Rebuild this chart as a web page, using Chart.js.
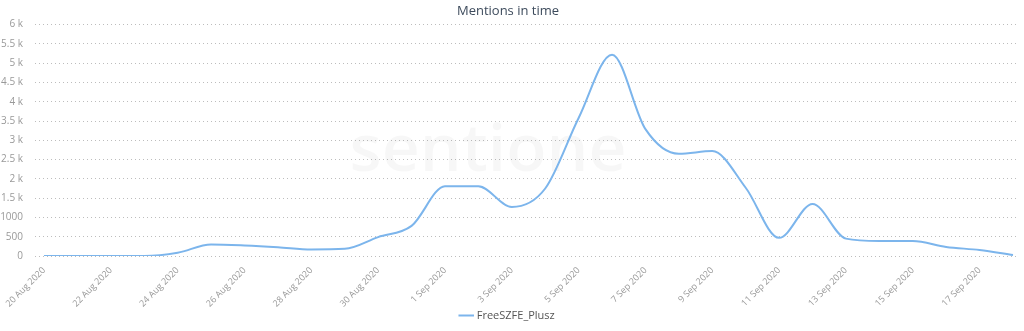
<!DOCTYPE html>
<html>
<head>
<meta charset="utf-8">
<script src="https://cdn.jsdelivr.net/npm/chart.js@4"></script>
<style>
  html, body { margin: 0; padding: 0; background: #fff; }
  #wrap { width: 1024px; height: 331px; }
</style>
</head>
<body>
<div id="wrap"><canvas id="chart"></canvas></div>
<script>
// One point per day
const days = [
  '20 Aug 2020', '21 Aug 2020', '22 Aug 2020', '23 Aug 2020', '24 Aug 2020', '25 Aug 2020',
  '26 Aug 2020', '27 Aug 2020', '28 Aug 2020', '29 Aug 2020', '30 Aug 2020', '31 Aug 2020',
  '1 Sep 2020', '2 Sep 2020', '3 Sep 2020', '4 Sep 2020', '5 Sep 2020', '6 Sep 2020',
  '7 Sep 2020', '8 Sep 2020', '9 Sep 2020', '10 Sep 2020', '11 Sep 2020', '12 Sep 2020',
  '13 Sep 2020', '14 Sep 2020', '15 Sep 2020', '16 Sep 2020', '17 Sep 2020', '18 Sep 2020'
];
const mentions = [
  0, 0, 0, 0, 85, 300,
  275, 230, 170, 185, 490, 780,
  1810, 1810, 1270, 1750, 3580, 5220,
  3290, 2650, 2720, 1770, 470, 1350,
  450, 390, 390, 235, 155, 25
];

// x labels every second day, y labels every 500
const xTickDays = [0, 2, 4, 6, 8, 10, 12, 14, 16, 18, 20, 22, 24, 26, 28];
const yTickLabels = ['0', '500', '1000', '1.5 k', '2 k', '2.5 k', '3 k', '3.5 k', '4 k', '4.5 k', '5 k', '5.5 k', '6 k'];

const fontFamily = '"Open Sans", "DejaVu Sans", sans-serif';

// faint logo text behind the line
const watermark = {
  id: 'watermark',
  beforeDatasetsDraw(chart) {
    const ctx = chart.ctx;
    ctx.save();
    ctx.font = '600 66px ' + fontFamily;
    ctx.fillStyle = 'rgba(0, 0, 0, 0.03)';
    ctx.textAlign = 'center';
    ctx.textBaseline = 'middle';
    ctx.fillText('sentione', 488, 152);
    ctx.restore();
  }
};

const chart = new Chart(document.getElementById('chart'), {
  type: 'line',
  data: {
    datasets: [{
      label: 'FreeSZFE_Plusz',
      data: mentions.map(function (v, i) { return { x: i, y: v }; }),
      borderColor: '#7cb5ec',
      backgroundColor: '#7cb5ec',
      borderWidth: 2,
      pointRadius: 0,
      pointStyle: 'line',
      cubicInterpolationMode: 'monotone',
      fill: false
    }]
  },
  options: {
    responsive: true,
    maintainAspectRatio: false,
    animation: false,
    layout: { padding: { left: 0, right: 8, top: 0, bottom: 0 } },
    plugins: {
      title: {
        display: true,
        text: 'Mentions in time',
        color: '#3d4b5c',
        font: { family: fontFamily, size: 13, weight: 'normal' },
        padding: { top: 3, bottom: 6 }
      },
      legend: {
        position: 'bottom',
        labels: {
          usePointStyle: true,
          boxWidth: 10,
          color: '#555',
          font: { family: fontFamily, size: 11 },
          padding: 2
        }
      },
      tooltip: { enabled: false }
    },
    scales: {
      x: {
        type: 'linear',
        min: -0.27,
        max: 29.09,
        grid: { display: false },
        border: { display: false },
        afterBuildTicks: function (axis) {
          axis.ticks = xTickDays.map(function (d) { return { value: d }; });
        },
        afterFit: function (axis) { axis.height = 52; },
        ticks: {
          autoSkip: false,
          minRotation: 45,
          maxRotation: 45,
          padding: 1,
          color: '#999',
          font: { family: fontFamily, size: 9 },
          callback: function (value) { return days[value]; }
        }
      },
      y: {
        min: 0,
        max: 6000,
        grid: { color: '#bdbdbd', drawTicks: false, lineWidth: 1 },
        border: { display: false, dash: [1, 3] },
        afterFit: function (axis) { axis.width = 35; },
        ticks: {
          stepSize: 500,
          padding: 12,
          color: '#999',
          font: { family: fontFamily, size: 10 },
          callback: function (value, index) { return yTickLabels[index]; }
        }
      }
    }
  },
  plugins: [watermark]
});
</script>
</body>
</html>
